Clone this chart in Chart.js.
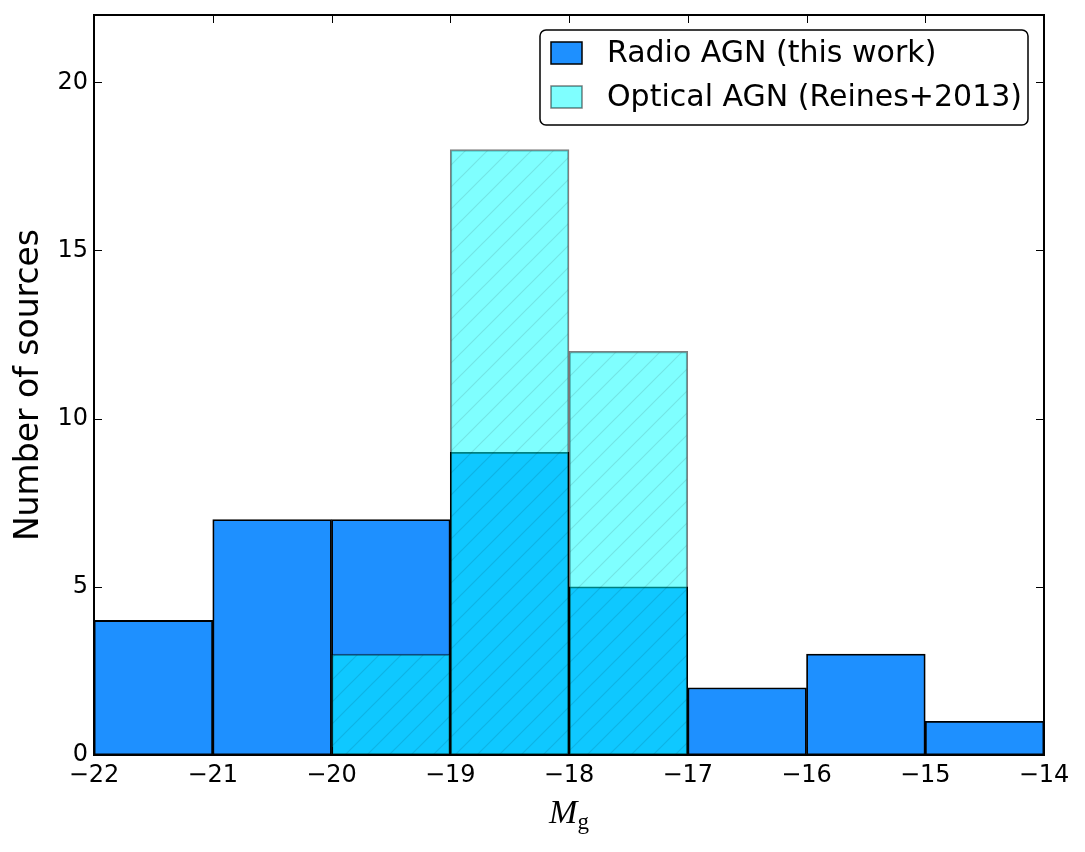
<!DOCTYPE html>
<html>
<head>
<meta charset="utf-8">
<script src="https://cdn.jsdelivr.net/npm/chart.js@4.4.1/dist/chart.umd.min.js"></script>
<style>
  html, body { margin: 0; padding: 0; background: #fff; }
  #wrap { width: 1085px; height: 852px; }
</style>
</head>
<body>
<div id="wrap"><canvas id="c" width="1085" height="852"></canvas></div>
<script>
// histogram bins (M_g) and counts
var binCenters = [-21.5, -20.5, -19.5, -18.5, -17.5, -16.5, -15.5, -14.5];
var radioCounts = [4, 7, 7, 9, 5, 2, 3, 1];
var opticalCenters = [-19.5, -18.5, -17.5];
var opticalCounts = [3, 18, 12];
var xTicks = [-22, -21, -20, -19, -18, -17, -16, -15, -14];
var yTicks = [0, 5, 10, 15, 20];
var radioLabel = "Radio AGN (this work)";
var opticalLabel = "Optical AGN (Reines+2013)";

var FONT = "'DejaVu Sans', sans-serif";

// hatch "/" pattern on translucent cyan
function makeHatch() {
    var s = 22;
    var c = document.createElement("canvas");
    c.width = s; c.height = s;
    var g = c.getContext("2d");
    g.fillStyle = "rgba(0,255,255,0.5)";
    g.fillRect(0, 0, s, s);
    g.strokeStyle = "rgba(0,0,0,0.1)";
    g.lineWidth = 1.2;
    g.beginPath();
    g.moveTo(0, s); g.lineTo(s, 0);
    g.moveTo(-2, 2); g.lineTo(2, -2);
    g.moveTo(s - 2, s + 2); g.lineTo(s + 2, s - 2);
    g.stroke();
    return g.createPattern(c, "repeat");
}
var hatch = makeHatch();

function pts(xs, ys) {
    return xs.map(function (x, i) { return {x: x, y: ys[i]}; });
}

// frame, inward ticks, x label and legend
var decor = {
    id: "decor",
    afterDatasetsDraw: function (chart) {
        var ctx = chart.ctx, a = chart.chartArea;
        var xs = chart.scales.x, ys = chart.scales.y;
        ctx.save();
        ctx.strokeStyle = "#000";
        ctx.lineWidth = 2;
        ctx.strokeRect(a.left, a.top, a.right - a.left, a.bottom - a.top);
        ctx.lineWidth = 1;
        ctx.beginPath();
        xTicks.forEach(function (v) {
            var px = Math.round(xs.getPixelForValue(v)) + 0.5;
            ctx.moveTo(px, a.bottom); ctx.lineTo(px, a.bottom - 8);
            ctx.moveTo(px, a.top); ctx.lineTo(px, a.top + 8);
        });
        yTicks.forEach(function (v) {
            var py = Math.round(ys.getPixelForValue(v)) + 0.5;
            ctx.moveTo(a.left, py); ctx.lineTo(a.left + 8, py);
            ctx.moveTo(a.right, py); ctx.lineTo(a.right - 8, py);
        });
        ctx.stroke();

        // x axis label  M_g
        var cx = (a.left + a.right) / 2;
        ctx.fillStyle = "#000";
        ctx.textAlign = "left";
        ctx.textBaseline = "alphabetic";
        ctx.font = "italic 34px 'Liberation Serif', serif";
        var mw = ctx.measureText("M").width;
        ctx.font = "23px 'Liberation Serif', serif";
        var gw = ctx.measureText("g").width;
        var x0 = cx - (mw + gw) / 2;
        ctx.font = "italic 34px 'Liberation Serif', serif";
        ctx.fillText("M", x0, a.bottom + 68);
        ctx.font = "23px 'Liberation Serif', serif";
        ctx.fillText("g", x0 + mw, a.bottom + 74);

        // legend
        var ds = chart.data.datasets;
        var bx = 540, by = 30, bw = 488, bh = 95;
        ctx.beginPath();
        ctx.roundRect(bx, by, bw, bh, 6);
        ctx.fillStyle = "#fff";
        ctx.fill();
        ctx.lineWidth = 1.5;
        ctx.strokeStyle = "#000";
        ctx.stroke();
        ctx.font = "30px " + FONT;
        ctx.textBaseline = "middle";
        [0, 1].forEach(function (i) {
            var sy = 42 + i * 44;
            ctx.fillStyle = i === 0 ? ds[i].backgroundColor : "rgba(0,255,255,0.5)";
            ctx.fillRect(551, sy, 31, 22);
            ctx.lineWidth = 1.5;
            ctx.strokeStyle = i === 0 ? "#000" : "rgba(0,0,0,0.5)";
            ctx.strokeRect(551, sy, 31, 22);
            ctx.fillStyle = "#000";
            ctx.fillText(ds[i].label, 607, sy + 12);
        });
        ctx.restore();
    }
};

var chart = new Chart(document.getElementById("c"), {
    type: "bar",
    data: {
        datasets: [{
            label: radioLabel,
            data: pts(binCenters, radioCounts),
            backgroundColor: "#1E90FF",
            borderColor: "#000",
            borderWidth: 1.8,
            borderSkipped: false,
            order: 1
        }, {
            label: opticalLabel,
            data: pts(opticalCenters, opticalCounts),
            backgroundColor: hatch,
            borderColor: "rgba(0,0,0,0.5)",
            borderWidth: 1.5,
            borderSkipped: false,
            order: 0
        }]
    },
    options: {
        responsive: false,
        animation: false,
        grouped: false,
        barPercentage: 1,
        categoryPercentage: 1,
        layout: {padding: {left: 0, right: 41, top: 15, bottom: 0}},
        plugins: {
            legend: {display: false},
            tooltip: {enabled: false}
        },
        scales: {
            x: {
                type: "linear",
                min: -22,
                max: -14,
                offset: false,
                grid: {display: false, drawTicks: false, offset: false},
                border: {display: false},
                afterBuildTicks: function (s) {
                    s.ticks = xTicks.map(function (v) { return {value: v}; });
                },
                afterFit: function (s) {
                    s.height = 97;
                    s.paddingLeft = 0; s.paddingRight = 0;
                },
                ticks: {
                    color: "#000",
                    padding: 6,
                    maxRotation: 0,
                    font: {family: FONT, size: 24},
                    callback: function (v) { return String(v).replace("-", "\u2212"); }
                }
            },
            y: {
                min: 0,
                max: 22,
                grid: {display: false, drawTicks: false},
                border: {display: false},
                afterBuildTicks: function (s) {
                    s.ticks = yTicks.map(function (v) { return {value: v}; });
                },
                afterFit: function (s) {
                    s.width = 94;
                    s.paddingTop = 0; s.paddingBottom = 0;
                },
                ticks: {
                    color: "#000",
                    padding: 6,
                    font: {family: FONT, size: 24}
                },
                title: {
                    display: true,
                    text: "Number of sources",
                    color: "#000",
                    padding: {top: 10, bottom: 0},
                    font: {family: FONT, size: 33}
                }
            }
        }
    },
    plugins: [decor]
});
</script>
</body>
</html>
